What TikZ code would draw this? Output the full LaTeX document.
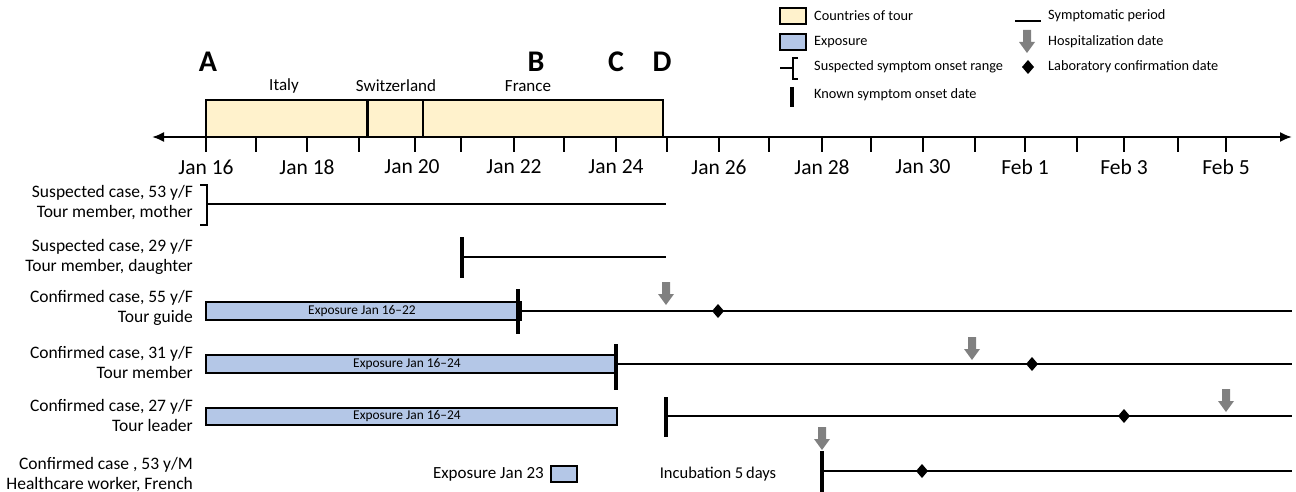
\documentclass[tikz,border=0pt]{standalone}
\usepackage{fontspec}
\setmainfont{Carlito}
\usetikzlibrary{arrows.meta}
\definecolor{tourfill}{HTML}{FFF2CC}
\definecolor{expfill}{HTML}{B4C7E7}
\definecolor{hospgray}{HTML}{808080}
\tikzset{
  tourbox/.style={draw=black, line width=2.4pt, fill=tourfill},
  expbox/.style={draw=black, line width=2.6pt, fill=expfill},
  symline/.style={line width=2pt},
  onset/.style={line width=4pt},
  tickmark/.style={line width=2.4pt},
  datelbl/.style={font=\fontsize{21.5}{24}\selectfont, anchor=center},
  caselbl/.style={font=\fontsize{17.5}{20}\selectfont, align=right, anchor=east, inner sep=0pt},
  legtxt/.style={font=\fontsize{14.3}{16}\selectfont, anchor=west, inner sep=0pt},
  bigletter/.style={font=\fontsize{30}{32}\selectfont\bfseries, anchor=center},
  country/.style={font=\fontsize{17}{19}\selectfont, anchor=center},
  explbl/.style={font=\fontsize{13.4}{15}\selectfont, anchor=center, inner sep=0pt},
  labdiamond/.pic={\fill (0,-7) -- (6,0) -- (0,7) -- (-6,0) -- cycle;},
  hosparrow/.pic={\fill[hospgray] (-4,-23) -- (4,-23) -- (4,-11) -- (8,-11) -- (0,0) -- (-8,-11) -- (-4,-11) -- cycle;}
}
\begin{document}
\begin{tikzpicture}[x=1pt,y=-1pt]
\useasboundingbox (0,0) rectangle (1296,492);

% ---------- legend ----------
\draw[tourbox, line width=2pt] (780,8) rectangle (806,24);
\node[legtxt] (lg1) at (814,16) {Countries of tour};
\draw[expbox, line width=2pt] (780,34) rectangle (806,50);
\node[legtxt] (lg2) at (814,42) {Exposure};
\draw[line width=1.6pt] (780,68) -- (793,68);
\draw[line width=1.8pt] (798,58) -- (793,58) -- (793,79) -- (798,79);
\node[legtxt] (lg3) at (814,67) {Suspected symptom onset range};
\draw[onset] (792,87) -- (792,107);
\node[legtxt] (lg4) at (814,95) {Known symptom onset date};
\draw[symline] (1015,21) -- (1041,21);
\node[legtxt] (lg5) at (1048,16) {Symptomatic period};
\pic at (1027,53) {hosparrow};
\node[legtxt] (lg6) at (1048,42) {Hospitalization date};
\pic at (1028,67) {labdiamond};
\node[legtxt] (lg7) at (1048,67) {Laboratory confirmation date};

% ---------- tour box ----------
\draw[tourbox] (206,100) rectangle (663,137);
\draw[line width=2.4pt] (367.5,100) -- (367.5,137);
\draw[line width=2.4pt] (423,100) -- (423,137);
\node[country] (it) at (284,86) {Italy};
\node[country] (sw) at (396,86) {Switzerland};
\node[country] (fr) at (528,86) {France};
\node[bigletter] (A) at (208,62) {A};
\node[bigletter] (B) at (536,62) {B};
\node[bigletter] (C) at (616,62) {C};
\node[bigletter] (D) at (662,62) {D};

% ---------- axis ----------
\coordinate (axL) at (152,137);
\coordinate (axR) at (1292,137);
\draw[line width=2pt, {Latex[length=12pt,width=10pt]}-{Latex[length=12pt,width=10pt]}] (axL) -- (axR);
\foreach \tx in {206,256,307,359,415,461,514,564,616,667,719,769,822,871,923,975,1025,1077,1124,1178,1226}
  \draw[tickmark] (\tx,137) -- (\tx,152);
\foreach \tx/\lbl in {206/Jan 16,307/Jan 18,412/Jan 20,514/Jan 22,616/Jan 24,719/Jan 26,822/Jan 28,923/Jan 30,1025/Feb 1,1124/Feb 3,1226/Feb 5}
  \node[datelbl] at (\tx,167) {\lbl};

% ---------- row 1 ----------
\node[caselbl] (r1) at (193,203) {Suspected case, 53 y/F\\Tour member, mother};
\coordinate (r1s) at (207,204);
\coordinate (r1e) at (666,204);
\draw[line width=2pt] (200,185) -- (207,185) -- (207,225) -- (200,225);
\draw[symline] (r1s) -- (r1e);

% ---------- row 2 ----------
\node[caselbl] (r2) at (193,257) {Suspected case, 29 y/F\\Tour member, daughter};
\coordinate (r2s) at (462,257);
\coordinate (r2e) at (666,257);
\draw[onset] (462,237) -- (462,278);
\draw[symline] (r2s) -- (r2e);

% ---------- row 3 ----------
\node[caselbl] (r3) at (193,308) {Confirmed case, 55 y/F\\Tour guide};
\draw[expbox] (206,302) rectangle (521,320);
\node[explbl] at (362,311) {Exposure Jan 16--22};
\coordinate (r3s) at (519,311);
\coordinate (r3e) at (1292,311);
\draw[symline] (r3s) -- (r3e);
\draw[onset] (518,289) -- (518,334);
\pic at (666,305) {hosparrow};
\pic at (718,311) {labdiamond};

% ---------- row 4 ----------
\node[caselbl] (r4) at (193,362) {Confirmed case, 31 y/F\\Tour member};
\draw[expbox] (206,355) rectangle (616,373);
\node[explbl] at (407,364) {Exposure Jan 16--24};
\coordinate (r4s) at (616,364);
\coordinate (r4e) at (1292,364);
\draw[symline] (r4s) -- (r4e);
\draw[onset] (616,344) -- (616,390);
\pic at (972,360) {hosparrow};
\pic at (1032,364) {labdiamond};

% ---------- row 5 ----------
\node[caselbl] (r5) at (193,415) {Confirmed case, 27 y/F\\Tour leader};
\draw[expbox] (206,408) rectangle (617,425);
\node[explbl] at (407,416) {Exposure Jan 16--24};
\coordinate (r5s) at (666,416);
\coordinate (r5e) at (1292,416);
\draw[symline] (r5s) -- (r5e);
\draw[onset] (666,397) -- (666,437);
\pic at (1124,416) {labdiamond};
\pic at (1226,412) {hosparrow};

% ---------- row 6 ----------
\node[caselbl] (r6) at (193,475) {Confirmed case , 53 y/M\\Healthcare worker, French};
\node[font=\fontsize{17}{19}\selectfont, anchor=east, inner sep=0pt] (e23) at (544,474) {Exposure Jan 23};
\draw[expbox, line width=2.2pt] (551,466) rectangle (577,482);
\node[font=\fontsize{16.5}{18}\selectfont, anchor=center, inner sep=0pt] (inc) at (718,474) {Incubation 5\,days};
\coordinate (r6s) at (822,471);
\coordinate (r6e) at (1292,471);
\draw[symline] (r6s) -- (r6e);
\draw[onset] (822,451) -- (822,494);
\pic at (822,450) {hosparrow};
\pic at (922,471) {labdiamond};
\end{tikzpicture}
\end{document}
